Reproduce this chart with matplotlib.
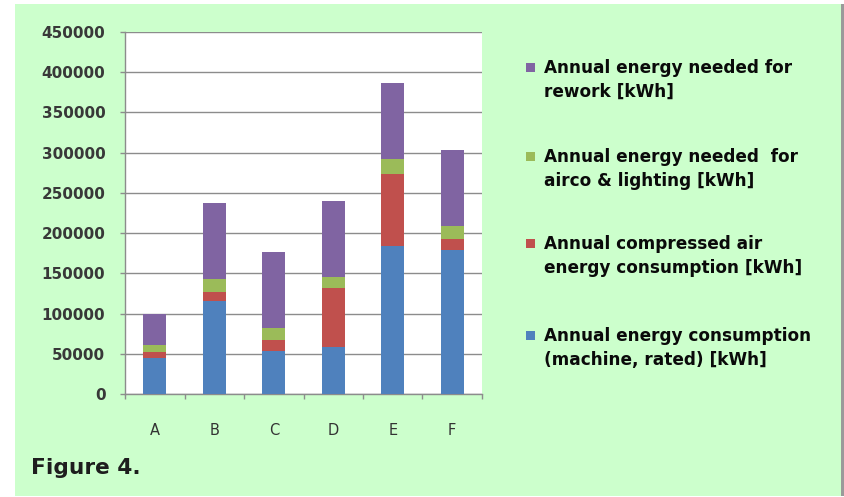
import matplotlib.pyplot as plt
from matplotlib.patches import Rectangle
import numpy as np

# stacked energy figures per machine, kWh/year
machines = ["A", "B", "C", "D", "E", "F"]
machine_rated = [44500, 115000, 54000, 58000, 184000, 179000]
compressed_air = [7500, 11500, 13000, 74000, 90000, 14000]
airco_lighting = [9000, 16000, 14500, 14000, 18000, 16000]
rework = [38000, 94500, 94500, 94500, 95000, 94500]

series_labels = [
    "Annual energy consumption\n(machine, rated) [kWh]",
    "Annual compressed air\nenergy consumption [kWh]",
    "Annual energy needed  for\nairco & lighting [kWh]",
    "Annual energy needed for\nrework [kWh]",
]
colors = ["#4F81BD", "#C0504D", "#9BBB59", "#8064A2"]
yticks = [0, 50000, 100000, 150000, 200000, 250000, 300000, 350000, 400000, 450000]

plt.rcParams["font.family"] = ["DejaVu Sans"]
W, H = 844, 497
fig = plt.figure(figsize=(W / 100, H / 100), dpi=100)
fig.patch.set_facecolor("white")

# green panel behind everything
fig.patches.append(Rectangle((15.5 / W, 1 - 495.5 / H), (841 - 15.5) / W, (495.5 - 3.5) / H,
                             transform=fig.transFigure, facecolor="#CCFFCC", edgecolor="none", zorder=-2))
fig.patches.append(Rectangle((841 / W, 1 - 495.5 / H), 3 / W, (495.5 - 3.5) / H,
                             transform=fig.transFigure, facecolor="#9a9a9a", edgecolor="none", zorder=-2))

ax = fig.add_axes([125 / W, 1 - 394 / H, (482 - 125) / W, (394 - 32) / H])
ax.set_facecolor("white")

x = np.arange(len(machines))
bottom = np.zeros(len(machines))
for vals, c in zip([machine_rated, compressed_air, airco_lighting, rework], colors):
    ax.bar(x, vals, width=0.39, bottom=bottom, color=c, zorder=3)
    bottom += np.array(vals)

ax.set_xlim(-0.5, len(machines) - 0.5)
ax.set_ylim(0, 450000)
ax.set_yticks(yticks)
ax.set_yticklabels([str(v) for v in yticks])
ax.yaxis.grid(True, color="#8c8c8c", linewidth=1.0, zorder=1)

# category ticks sit between the bars
ax.set_xticks(np.arange(-0.5, len(machines), 1.0))
ax.set_xticklabels([])
ax.set_xticks(x, minor=True)
ax.set_xticklabels(machines, minor=True)
ax.tick_params(axis="x", which="major", direction="out", length=3.5, color="#8c8c8c", width=1)
ax.tick_params(axis="x", which="minor", length=0, pad=21, labelsize=10.5, labelcolor="#333333")
ax.tick_params(axis="y", direction="out", length=3.6, color="#8c8c8c", width=1, pad=10.5,
               labelsize=11, labelcolor="#383838")
for lbl in ax.get_yticklabels():
    lbl.set_fontweight("bold")

for side in ["top", "right"]:
    ax.spines[side].set_visible(False)
for side in ["left", "bottom"]:
    ax.spines[side].set_color("#8c8c8c")
    ax.spines[side].set_linewidth(1)

# legend, top entry first
legend_rows = [(67, 3), (156, 2), (243, 1), (335, 0)]
for ytop, i in legend_rows:
    fig.patches.append(Rectangle((526 / W, 1 - (ytop + 5) / H), 9 / W, 9 / H,
                                 transform=fig.transFigure, facecolor=colors[i], edgecolor="none"))
    fig.text(544 / W, 1 - (ytop - 8) / H, series_labels[i], fontsize=12.2, fontweight="bold",
             color="#0a0a0a", va="top", ha="left", linespacing=1.42)

fig.text(31 / W, 1 - 468 / H, "Figure 4.", fontsize=15.6, fontweight="bold",
         color="#1e1e1e", va="center", ha="left")

fig.savefig("out.png", dpi=100)
